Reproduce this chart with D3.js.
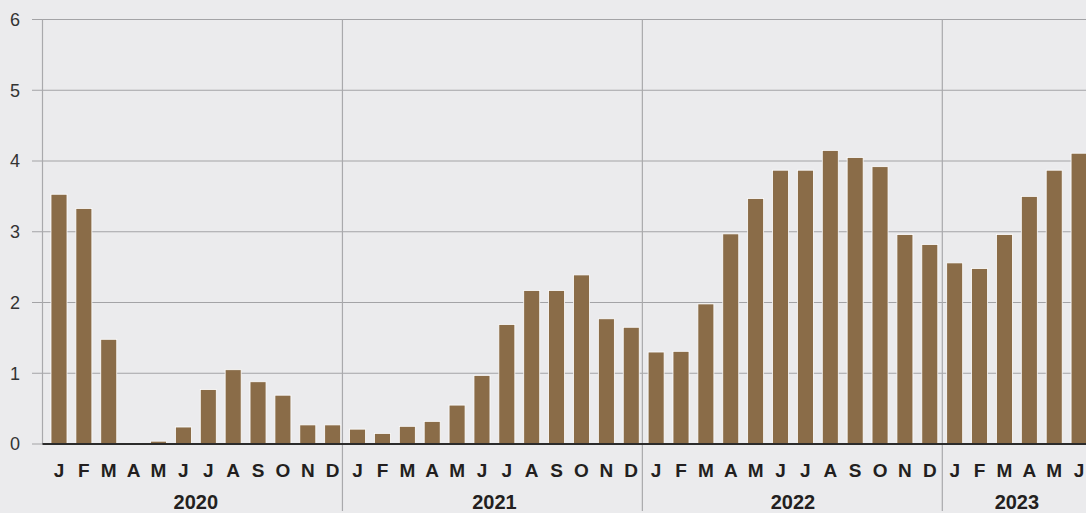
<!DOCTYPE html>
<html>
<head>
<meta charset="utf-8">
<script src="https://cdn.jsdelivr.net/npm/d3@7"></script>
<style>
  html, body { margin: 0; padding: 0; background: #ebebed; }
  svg { display: block; }
  text { font-family: "Liberation Sans", Arial, Helvetica, sans-serif; fill: #231f20; }
</style>
</head>
<body>
<svg id="chart" width="1086" height="513"></svg>
<script>
const years = ["2020", "2021", "2022", "2023"];
const monthLetters = ["J","F","M","A","M","J","J","A","S","O","N","D"];
const values2020 = [3.53, 3.33, 1.48, 0.01, 0.04, 0.24, 0.77, 1.05, 0.88, 0.69, 0.27, 0.27];
const values2021 = [0.21, 0.15, 0.25, 0.32, 0.55, 0.97, 1.69, 2.17, 2.17, 2.39, 1.77, 1.65];
const values2022 = [1.30, 1.31, 1.98, 2.97, 3.47, 3.87, 3.87, 4.15, 4.05, 3.92, 2.96, 2.82];
const values2023 = [2.56, 2.48, 2.96, 3.50, 3.87, 4.11];
const yTicks = [0, 1, 2, 3, 4, 5, 6];

const seriesByYear = [values2020, values2021, values2022, values2023];
const data = [];
seriesByYear.forEach((vals, yi) => {
  vals.forEach((v, mi) => {
    data.push({ key: years[yi] + "-" + (mi + 1), year: years[yi], month: mi, label: monthLetters[mi], value: v });
  });
});

const W = 1086, H = 513;
const svg = d3.select("#chart");

const step = 24.88;
const r0 = 46.56;
const x = d3.scaleBand()
  .domain(data.map(d => d.key))
  .range([r0, r0 + step * data.length])
  .paddingInner(0.357)
  .paddingOuter(0.1785);

const y = d3.scaleLinear().domain([0, 6]).range([444, 19.5]);

const yearX = d3.scaleLinear().domain([2020, 2023]).range([42.5, 942.3]);

// gridlines
svg.append("g").selectAll("line")
  .data(yTicks)
  .join("line")
  .attr("x1", 32).attr("x2", W)
  .attr("y1", d => y(d)).attr("y2", d => y(d))
  .attr("stroke", "#a3a3a6").attr("stroke-width", 1.2);

// y labels
svg.append("g").selectAll("text")
  .data(yTicks)
  .join("text")
  .attr("x", 20).attr("y", d => y(d))
  .attr("dy", "0.36em")
  .attr("text-anchor", "end")
  .style("font-size", "18px")
  .style("fill", "#333333")
  .text(d => d);

// year separators
svg.append("g").selectAll("line")
  .data(years.slice(1))
  .join("line")
  .attr("x1", d => yearX(+d)).attr("x2", d => yearX(+d))
  .attr("y1", y(6)).attr("y2", 511)
  .attr("stroke", "#a9a9ac").attr("stroke-width", 1.2);

// left axis line
svg.append("line")
  .attr("x1", yearX(2020)).attr("x2", yearX(2020))
  .attr("y1", y(6)).attr("y2", y(0))
  .attr("stroke", "#a9a9ac").attr("stroke-width", 1.2);

// bars
svg.append("g").selectAll("rect")
  .data(data)
  .join("rect")
  .attr("x", d => x(d.key))
  .attr("width", x.bandwidth())
  .attr("y", d => y(d.value))
  .attr("height", d => y(0) - y(d.value))
  .attr("fill", "#8a6c48")
  .attr("stroke", "#ffffff")
  .attr("stroke-width", 0.8);

// baseline
svg.append("line")
  .attr("x1", yearX(2020)).attr("x2", W)
  .attr("y1", y(0)).attr("y2", y(0))
  .attr("stroke", "#2b2b2b").attr("stroke-width", 2);

// month labels
svg.append("g").selectAll("text")
  .data(data)
  .join("text")
  .attr("x", d => x(d.key) + x.bandwidth() / 2)
  .attr("y", 477)
  .attr("text-anchor", "middle")
  .style("font-size", "19px")
  .style("font-weight", "bold")
  .text(d => d.label);

// year labels
svg.append("g").selectAll("text")
  .data(years)
  .join("text")
  .attr("x", yr => {
    const ks = data.filter(d => d.year === yr);
    const a = x(ks[0].key) + x.bandwidth() / 2;
    const b = x(ks[ks.length - 1].key) + x.bandwidth() / 2;
    return (a + b) / 2;
  })
  .attr("y", 509)
  .attr("text-anchor", "middle")
  .style("font-size", "20px")
  .style("font-weight", "bold")
  .text(d => d);
</script>
</body>
</html>
